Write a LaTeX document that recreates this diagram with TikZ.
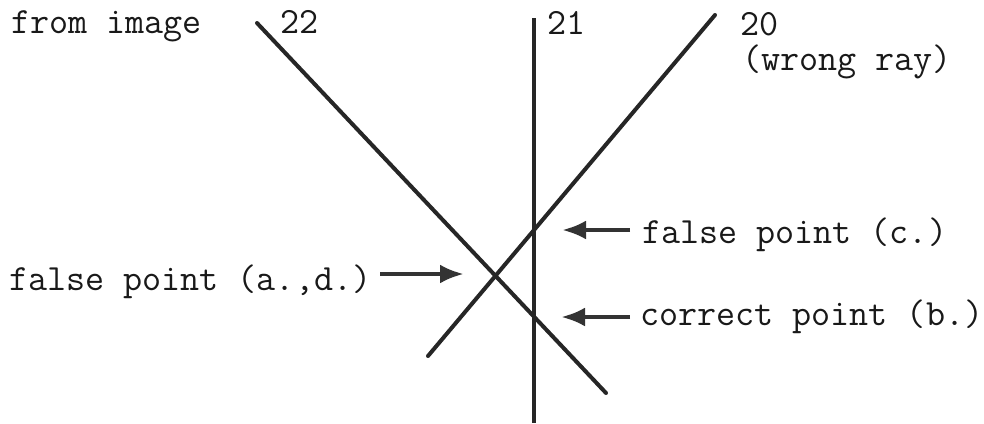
\documentclass[tikz,border=0pt]{standalone}
\usetikzlibrary{arrows.meta}
\begin{document}
\begin{tikzpicture}[x=1pt,y=-1pt,
  ray/.style={draw=black!85,line width=4pt,line cap=round},
  pointer/.style={draw=black!80,line width=4.5pt,-{Latex[length=24pt,width=19pt]}},
  lbl/.style={inner sep=0pt,font=\fontsize{37}{42}\selectfont\ttfamily,text=black!90}]
\useasboundingbox (0,0) rectangle (984,423);
% rays
\coordinate (r22a) at (257,23);
\coordinate (r22b) at (606,393);
\coordinate (r21a) at (534,18);
\coordinate (r21b) at (534,423);
\coordinate (r20a) at (715,15);
\coordinate (r20b) at (428,356);
\draw[ray] (r22a) -- (r22b);
\draw[ray,line cap=butt] (r21a) -- (r21b);
\draw[ray] (r20a) -- (r20b);
% labels
\node[lbl,anchor=base west] (from) at (11,33) {from image};
\node[lbl,anchor=base west] (n22) at (280,33) {22};
\node[lbl,anchor=base west] (n21) at (547,34) {21};
\node[lbl,anchor=base west] (n20) at (740,35) {20};
\node[lbl,anchor=base west] (wrong) at (742,70) {(wrong ray)};
\node[lbl,anchor=base west] (fc) at (642,243) {false point (c.)};
\node[lbl,anchor=base west] (cb) at (640,325) {correct point (b.)};
\node[lbl,anchor=base west] (fa) at (9,290) {false point (a.,d.)};
% pointer arrows
\coordinate (fcT) at (630,230);
\coordinate (fcH) at (562,230);
\coordinate (cbT) at (630,317);
\coordinate (cbH) at (561,317);
\coordinate (faT) at (380,274);
\coordinate (faH) at (464,274);
\draw[pointer] (fcT) -- (fcH);
\draw[pointer] (cbT) -- (cbH);
\draw[pointer] (faT) -- (faH);
\end{tikzpicture}
\end{document}
